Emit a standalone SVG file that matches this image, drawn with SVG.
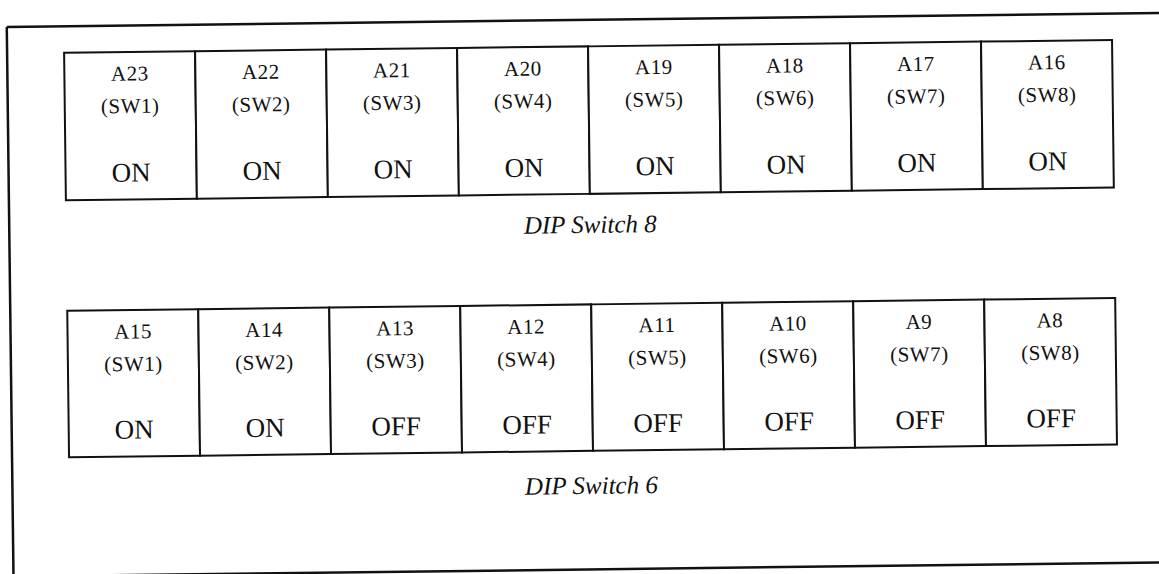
<svg xmlns="http://www.w3.org/2000/svg" width="1159" height="574" viewBox="0 0 1159 574">
<style>
.frame{fill:none;stroke:#111;stroke-width:2.5}
.cell{fill:#fff;stroke:#111;stroke-width:2}
.lbl{font-family:"Liberation Serif","Times New Roman",serif;font-size:21px;fill:#111;text-anchor:middle;letter-spacing:0.5px}
.st{font-family:"Liberation Serif","Times New Roman",serif;font-size:27px;fill:#111;text-anchor:middle}
.cap{font-family:"Liberation Serif","Times New Roman",serif;font-size:25px;font-style:italic;fill:#111;text-anchor:middle}
</style>
<rect x="0" y="0" width="1159" height="574" fill="#fff"/>
<g transform="rotate(-0.7 580 287)">
<g id="frame">
<line class="frame" x1="10" y1="20" x2="1175" y2="20"/>
<line class="frame" x1="10" y1="20" x2="10" y2="590"/>
<line class="frame" x1="10" y1="569.5" x2="1175" y2="569.5"/>
</g>
<g id="dip8">
<g id="a23"><rect class="cell" x="67" y="46.5" width="131" height="147.5"/><text class="lbl" x="132.5" y="75">A23</text><text class="lbl" x="132.5" y="107.5">(SW1)</text><text class="st" x="132.5" y="176">ON</text></g>
<g id="a22"><rect class="cell" x="198" y="46.5" width="131" height="147.5"/><text class="lbl" x="263.5" y="75">A22</text><text class="lbl" x="263.5" y="107.5">(SW2)</text><text class="st" x="263.5" y="176">ON</text></g>
<g id="a21"><rect class="cell" x="329" y="46.5" width="131" height="147.5"/><text class="lbl" x="394.5" y="75">A21</text><text class="lbl" x="394.5" y="107.5">(SW3)</text><text class="st" x="394.5" y="176">ON</text></g>
<g id="a20"><rect class="cell" x="460" y="46.5" width="131" height="147.5"/><text class="lbl" x="525.5" y="75">A20</text><text class="lbl" x="525.5" y="107.5">(SW4)</text><text class="st" x="525.5" y="176">ON</text></g>
<g id="a19"><rect class="cell" x="591" y="46.5" width="131" height="147.5"/><text class="lbl" x="656.5" y="75">A19</text><text class="lbl" x="656.5" y="107.5">(SW5)</text><text class="st" x="656.5" y="176">ON</text></g>
<g id="a18"><rect class="cell" x="722" y="46.5" width="131" height="147.5"/><text class="lbl" x="787.5" y="75">A18</text><text class="lbl" x="787.5" y="107.5">(SW6)</text><text class="st" x="787.5" y="176">ON</text></g>
<g id="a17"><rect class="cell" x="853" y="46.5" width="131" height="147.5"/><text class="lbl" x="918.5" y="75">A17</text><text class="lbl" x="918.5" y="107.5">(SW7)</text><text class="st" x="918.5" y="176">ON</text></g>
<g id="a16"><rect class="cell" x="984" y="46.5" width="131" height="147.5"/><text class="lbl" x="1049.5" y="75">A16</text><text class="lbl" x="1049.5" y="107.5">(SW8)</text><text class="st" x="1049.5" y="176">ON</text></g>
<text id="cap8" class="cap" x="591" y="233">DIP Switch 8</text>
</g>
<g id="dip6">
<g id="a15"><rect class="cell" x="67" y="304.5" width="131" height="146.5"/><text class="lbl" x="132.5" y="333">A15</text><text class="lbl" x="132.5" y="365.5">(SW1)</text><text class="st" x="132.5" y="433">ON</text></g>
<g id="a14"><rect class="cell" x="198" y="304.5" width="131" height="146.5"/><text class="lbl" x="263.5" y="333">A14</text><text class="lbl" x="263.5" y="365.5">(SW2)</text><text class="st" x="263.5" y="433">ON</text></g>
<g id="a13"><rect class="cell" x="329" y="304.5" width="131" height="146.5"/><text class="lbl" x="394.5" y="333">A13</text><text class="lbl" x="394.5" y="365.5">(SW3)</text><text class="st" x="394.5" y="433">OFF</text></g>
<g id="a12"><rect class="cell" x="460" y="304.5" width="131" height="146.5"/><text class="lbl" x="525.5" y="333">A12</text><text class="lbl" x="525.5" y="365.5">(SW4)</text><text class="st" x="525.5" y="433">OFF</text></g>
<g id="a11"><rect class="cell" x="591" y="304.5" width="131" height="146.5"/><text class="lbl" x="656.5" y="333">A11</text><text class="lbl" x="656.5" y="365.5">(SW5)</text><text class="st" x="656.5" y="433">OFF</text></g>
<g id="a10"><rect class="cell" x="722" y="304.5" width="131" height="146.5"/><text class="lbl" x="787.5" y="333">A10</text><text class="lbl" x="787.5" y="365.5">(SW6)</text><text class="st" x="787.5" y="433">OFF</text></g>
<g id="a9"><rect class="cell" x="853" y="304.5" width="131" height="146.5"/><text class="lbl" x="918.5" y="333">A9</text><text class="lbl" x="918.5" y="365.5">(SW7)</text><text class="st" x="918.5" y="433">OFF</text></g>
<g id="a8"><rect class="cell" x="984" y="304.5" width="131" height="146.5"/><text class="lbl" x="1049.5" y="333">A8</text><text class="lbl" x="1049.5" y="365.5">(SW8)</text><text class="st" x="1049.5" y="433">OFF</text></g>
<text id="cap6" class="cap" x="589" y="494">DIP Switch 6</text>
</g>
</g>
</svg>
